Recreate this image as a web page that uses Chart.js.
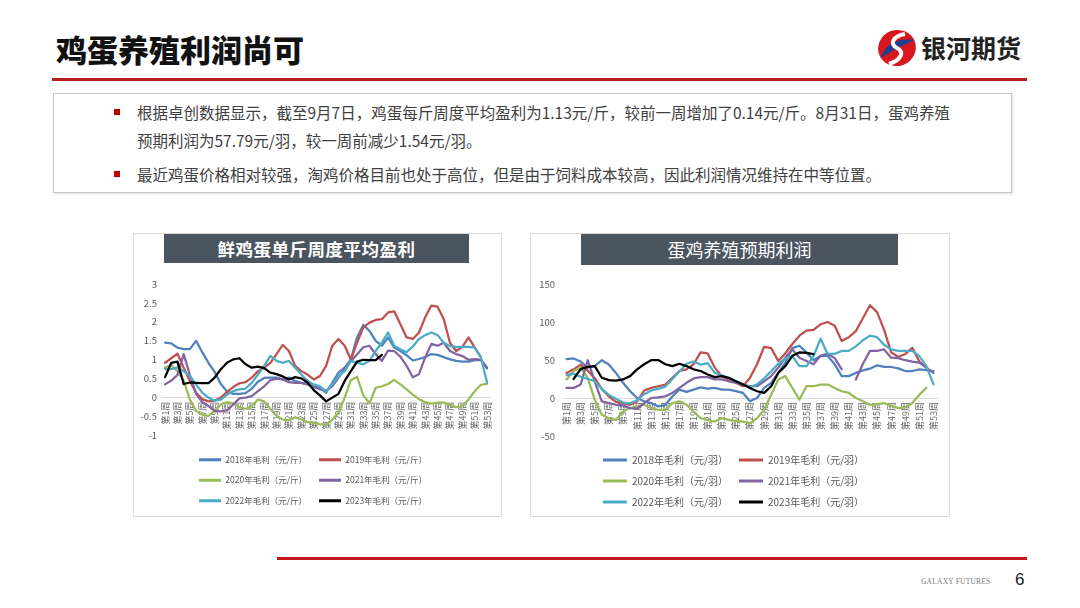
<!DOCTYPE html>
<html>
<head>
<meta charset="utf-8">
<script src="https://cdn.jsdelivr.net/npm/chart.js@4.4.0/dist/chart.umd.min.js"></script>
<style>
body{margin:0;width:1080px;height:608px;background:#fff;position:relative;overflow:hidden;font-family:'Noto Sans CJK SC','Noto Sans',sans-serif;}
.abs{position:absolute;}
#title{left:56px;top:29px;font-size:31px;font-weight:900;color:#111;line-height:40px;}
#logoText{left:921px;top:30px;font-size:25px;font-weight:700;color:#222;line-height:34px;}
#redline{left:52px;top:78px;width:975px;height:3px;background:#b51f24;}
#box{left:53px;top:93px;width:959px;height:100px;border:1.5px solid #c6c6c6;box-sizing:border-box;box-shadow:1px 1px 2px #e0e0e0;}
.txt{left:137px;font-size:15.5px;line-height:28px;color:#404040;white-space:nowrap;}
.bul{width:6px;height:6px;background:#c00000;left:114px;}
.card{top:233px;height:284px;border:1px solid #dcdcdc;box-sizing:border-box;background:#fff;}
.ttl{top:234px;background:#4b5560;color:#fff;text-align:center;}
canvas{position:absolute;}
#foot{left:277px;top:557px;width:750px;height:3px;background:#c0161c;}
#gf{left:921px;top:577px;font-family:'Liberation Serif',serif;font-size:7.5px;color:#777;letter-spacing:0.2px;}
#pg{left:1015px;top:570px;font-family:'Liberation Sans',sans-serif;font-size:17px;color:#222;}
</style>
</head>
<body>
<div id="title" class="abs">鸡蛋养殖利润尚可</div>
<svg class="abs" style="left:875px;top:28px" width="44" height="40" viewBox="0 0 44 40">
  <ellipse cx="22" cy="20" rx="19" ry="18" fill="#d7161d" transform="rotate(-20 22 20)"/>
  <path d="M6 30 C 10 14, 26 10, 40 12 C 30 16, 18 22, 6 30 Z" fill="#1c3f8e"/>
  <path d="M30 6 C 18 8, 14 16, 22 20 C 30 24, 26 32, 14 36" stroke="#fff" stroke-width="4" fill="none"/>
</svg>
<div id="logoText" class="abs">银河期货</div>
<div id="redline" class="abs"></div>

<div id="box" class="abs"></div>
<div class="abs bul" style="top:109px"></div>
<div class="abs txt" style="top:98px">根据卓创数据显示，截至9月7日，鸡蛋每斤周度平均盈利为1.13元/斤，较前一周增加了0.14元/斤。8月31日，蛋鸡养殖<br>预期利润为57.79元/羽，较一周前减少1.54元/羽。</div>
<div class="abs bul" style="top:171px"></div>
<div class="abs txt" style="top:160px">最近鸡蛋价格相对较强，淘鸡价格目前也处于高位，但是由于饲料成本较高，因此利润情况维持在中等位置。</div>

<div class="abs card" style="left:133px;width:369px"></div>
<div class="abs card" style="left:530px;width:420px"></div>
<canvas id="c1" width="369" height="251" style="left:133px;top:266px"></canvas>
<canvas id="c2" width="420" height="251" style="left:530px;top:266px"></canvas>
<div class="abs ttl" style="left:164px;width:305px;height:29px;line-height:29px;font-size:17.5px;font-weight:700;letter-spacing:0.5px">鲜鸡蛋单斤周度平均盈利</div>
<div class="abs ttl" style="left:581px;width:317px;height:31px;line-height:31px;font-size:18px">蛋鸡养殖预期利润</div>

<div id="foot" class="abs"></div>
<div id="gf" class="abs">GALAXY FUTURES</div>
<div id="pg" class="abs">6</div>

<script>
// weeks 第1周 .. 第53周
var weeks = [];
for (var i = 1; i <= 53; i++) weeks.push("第" + i + "周");

var years = ["2018", "2019", "2020", "2021", "2022", "2023"];
var colors = ["#4f81bd", "#c0504d", "#9bbb59", "#8064a2", "#4bacc6", "#000000"];

// 鲜鸡蛋单斤周度平均盈利 (元/斤)
var egg2018 = [1.45,1.43,1.32,1.28,1.28,1.5,1.2,0.92,0.68,0.36,0.16,0.1,0.1,0.12,0.24,0.42,0.52,0.53,0.53,0.48,0.53,0.44,0.39,0.35,0.3,0.26,0.13,0.39,0.66,0.79,1.01,1.59,1.92,1.76,1.5,1.37,1.59,1.32,1.23,1.12,0.98,1.02,1.07,1.15,1.13,1.07,1.01,0.97,0.95,0.95,0.99,0.99,0.77];
var egg2019 = [0.92,1.04,1.16,0.79,0.44,0.13,-0.04,-0.1,-0.08,0.0,0.15,0.28,0.38,0.41,0.53,0.7,0.79,0.92,1.15,1.39,1.23,0.84,0.7,0.61,0.48,0.57,0.84,1.37,1.55,1.37,1.0,1.45,1.85,1.98,2.05,2.07,2.25,2.28,1.94,1.59,1.55,1.72,2.12,2.43,2.4,2.07,1.45,1.23,1.34,1.59,1.32,1.07,null];
var egg2020 = [0.8,0.85,0.7,0.45,-0.05,-0.35,-0.45,-0.48,-0.35,-0.18,-0.12,-0.15,-0.25,-0.3,-0.22,-0.05,-0.1,-0.3,-0.48,-0.58,-0.6,-0.52,-0.57,-0.65,-0.66,-0.7,-0.72,-0.58,-0.4,0.0,0.46,0.55,0.06,-0.15,0.26,0.3,0.36,0.47,0.35,0.22,0.08,-0.04,-0.12,-0.16,-0.13,-0.13,-0.2,-0.25,-0.23,-0.05,0.17,0.34,0.36];
var egg2021 = [0.35,0.45,0.6,1.15,0.6,0.1,-0.12,-0.22,-0.35,-0.36,-0.34,-0.18,-0.02,0.0,0.04,0.17,0.3,0.46,0.5,0.48,0.41,0.39,0.39,0.35,0.28,0.22,0.19,0.3,0.53,0.75,0.97,1.14,1.33,1.37,1.15,0.97,1.24,1.23,1.08,0.84,0.54,0.62,1.06,1.42,1.37,1.45,1.23,1.15,1.1,1.0,1.02,1.0,0.79];
var egg2022 = [0.75,0.75,0.8,0.7,0.57,0.35,0.13,0.0,-0.08,-0.05,0.08,0.17,0.22,0.24,0.39,0.61,0.84,1.1,0.97,0.92,0.97,0.79,0.61,0.44,0.35,0.3,0.17,0.35,0.57,0.7,0.97,0.92,0.88,0.97,1.23,1.45,1.72,1.37,1.28,1.2,1.35,1.55,1.65,1.72,1.65,1.45,1.36,1.34,1.34,1.34,1.32,1.06,0.39];
var egg2023 = [0.54,0.92,0.95,0.36,0.4,0.39,0.38,0.38,0.53,0.75,0.92,1.01,1.04,0.88,0.79,0.82,0.78,0.66,0.62,0.56,0.48,0.54,0.51,0.4,0.2,0.06,-0.1,0.0,0.1,0.44,0.7,0.95,1.0,0.99,0.99,1.13];

// 蛋鸡养殖预期利润 (元/羽)
var hen2018 = [51,52,48,40,42,49.7,44,33,20,9,0,-4.4,-6.7,-11,-9,2,11,8,11,14,12.4,13.3,11,11,9,6.7,-4.4,0,13.3,20,33,46.6,65.7,68.8,60,49.7,55.5,55.5,44.4,28.8,28.8,33,36.4,38.6,43,41,40.8,39,35.5,35.5,37.7,36.8,35.5];
var hen2019 = [33,37.7,44,36,26,12,2,-5,-7,-9,-4.4,9.8,13.3,15.5,17.7,26.6,35.5,37.7,44.4,60,58.6,40,28.8,24.4,20,15.5,26.6,44.4,67.4,65.7,48.8,58.6,71,82,88.7,89.6,97,100,95,75,80,88,105,122,113,90,60,54,58,66,48,40,null];
var hen2020 = [24.4,35.5,40,26.6,-2.2,-22,-26.6,-28.8,-17.7,-13.3,-11,-8.9,-13.3,-15.5,-15.5,-6.7,-4.4,-8.9,-17.7,-26.6,-28.8,-31,-26.6,-28.8,-30,-31,-33,-26.6,-15.5,4.4,24.4,28.8,13.3,-2.2,15.5,15.5,17.7,17.7,13.3,8.9,6.7,0,-4.4,-8.9,-8,-6.7,-9.8,-13.3,-12.4,-6.7,4.4,13.3,null];
var hen2021 = [13.3,13.3,17.7,49.7,22,-4.4,-6.7,-8.9,-9.8,-13.3,-14,-6.7,0,0.9,2.2,6.7,13.3,20,25.7,27.5,27.5,24.4,24.4,22,20,17.7,15.5,15.5,22,28.8,40,53,64,53,48.8,44.4,55.5,58.6,52.4,37.7,null,24.4,45,62,62,64,53,52.4,49.7,48,46.6,40,33];
var hen2022 = [30,32,28,25,22,12,4,-1,-6,-7,-3,5,10,12,15,25,35,45,48,44,46,33,30,26,22,18,14,18,26,35,45,52,55,42,42,55,78,58,58,62,62,68,76,82,80,70,64,62,62,62,55,42,18];
var hen2023 = [null,25,38,41,42,26.6,23.5,23,24.4,28.8,37.7,44.4,49.7,50,44.4,42,45,42,37.7,35.5,31,27.5,28.8,26.6,22,17.7,13.3,8.9,6.7,15.5,33,42,55.5,60,59.33,57.79];

Chart.defaults.font.family = "'Noto Sans CJK SC', 'Noto Sans', sans-serif";

function makeChart(id, series, unit, yMin, yMax, yStep, cfg) {
    var datasets = series.map(function (data, k) {
        return {
            label: years[k] + "年毛利（" + unit + "）",
            data: data,
            borderColor: colors[k],
            backgroundColor: colors[k],
            borderWidth: 2.25,
            pointRadius: 0,
            tension: 0,
            fill: false,
            spanGaps: false,
            borderJoinStyle: "round",
            borderCapStyle: "round",
            order: 6 - k,
        };
    });
    return new Chart(document.getElementById(id), {
        type: "line",
        data: { labels: weeks, datasets: datasets },
        options: {
            responsive: false,
            animation: false,
            layout: { padding: { left: 0, right: cfg.padRight, top: 18, bottom: cfg.padBottom } },
            plugins: {
                tooltip: { enabled: false },
                legend: {
                    position: "bottom",
                    title: { display: true, text: "", font: { size: 1, lineHeight: 1 }, padding: { top: 7, bottom: 0 } },
                    labels: {
                        boxWidth: cfg.boxWidth,
                        boxHeight: 3,
                        padding: cfg.legendPad,
                        color: "#595959",
                        font: { size: cfg.legendFont },
                        sort: function (a, b) { return a.datasetIndex - b.datasetIndex; },
                        generateLabels: function (chart) {
                            return Chart.defaults.plugins.legend.labels.generateLabels(chart).map(function (l) {
                                l.fillStyle = l.strokeStyle;
                                l.lineWidth = 0;
                                return l;
                            });
                        },
                    },
                },
            },
            scales: {
                x: {
                    position: { y: 0 },
                    offset: true,
                    grid: { display: false, drawTicks: false },
                    border: { display: true, color: "#d9d9d9", width: 1 },
                    ticks: {
                        autoSkip: false,
                        maxRotation: 90,
                        minRotation: 90,
                        padding: 4,
                        color: "#666666",
                        font: { size: 9 },
                        callback: function (v, i) { return i % 2 === 0 ? weeks[i] : ""; },
                    },
                },
                y: {
                    min: yMin,
                    max: yMax,
                    grid: { display: false, drawTicks: false },
                    border: { display: false },
                    afterFit: function (s) { s.width = cfg.yWidth; },
                    ticks: {
                        stepSize: yStep,
                        padding: cfg.yPad,
                        color: "#595959",
                        font: { size: 9.5 },
                        callback: function (v) { return String(Math.round(v * 10) / 10); },
                    },
                },
            },
        },
    });
}

makeChart("c1", [egg2018, egg2019, egg2020, egg2021, egg2022, egg2023], "元/斤", -1, 3, 0.5,
    { padRight: 9, padBottom: 2, yWidth: 29, yPad: 5, boxWidth: 22, legendPad: 12, legendFont: 8.5 });
makeChart("c2", [hen2018, hen2019, hen2020, hen2021, hen2022, hen2023], "元/羽", -50, 150, 50,
    { padRight: 13, padBottom: 0, yWidth: 33, yPad: 8, boxWidth: 24, legendPad: 11, legendFont: 10 });
</script>
</body>
</html>
